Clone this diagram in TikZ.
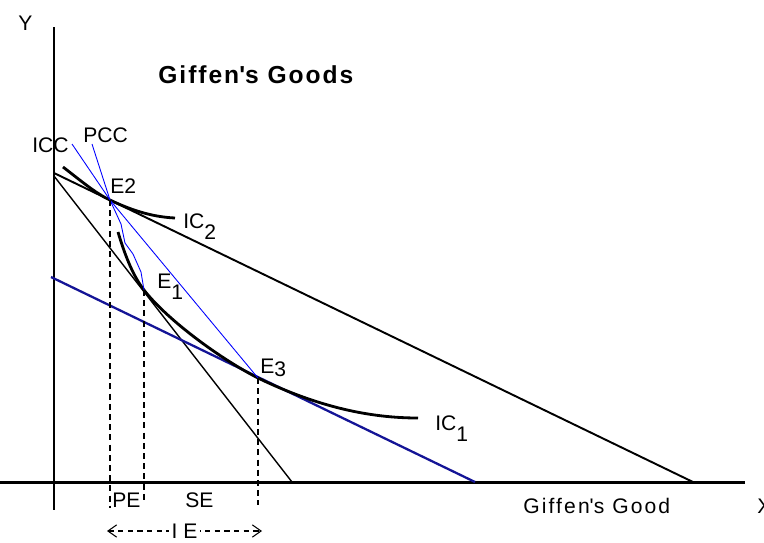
\documentclass[tikz,border=0pt]{standalone}
\usepackage{fontspec}
\setmainfont{Liberation Sans}
\usepackage{tikz}
\usetikzlibrary{arrows.meta}
\definecolor{clBudget}{HTML}{141496}
\definecolor{clLocus}{HTML}{0000FF}

\begin{document}
\begin{tikzpicture}[x=0.02cm,y=-0.02cm,
  every node/.style={font=\fontsize{12}{14}\selectfont, inner sep=0pt},
  axisline/.style={line width=1.7pt},
  budget/.style={line width=1.1pt},
  indiff/.style={line width=1.6pt},
  locus/.style={clLocus, line width=0.5pt},
  drop/.style={dash pattern=on 3.4pt off 2.4pt, line width=0.6pt}]
  \useasboundingbox (0,0) rectangle (764,542);
  % axes
  \coordinate (ytop) at (54,27); \coordinate (ybot) at (54,510);
  \coordinate (xl) at (0,482);   \coordinate (xr) at (745,482);
  \draw[axisline] (ytop) -- (ybot);
  \draw[axisline] (xl) -- (xr);
  \node[anchor=base west] (ylab) at (18,30) {Y};
  \node[anchor=base west] (xlab) at (757,513) {X};
  \node[anchor=base west, font=\fontsize{12}{14}\selectfont\addfontfeatures{LetterSpace=10}] (good) at (523,513) {Giffen\textquotesingle s Good};
  \node[anchor=base west, font=\fontsize{14}{16}\selectfont\bfseries\addfontfeatures{LetterSpace=8}] (title) at (158,83) {Giffen\textquotesingle s Goods};
  % equilibria
  \coordinate (E1) at (144,290); \coordinate (E2) at (110,200); \coordinate (E3) at (258,378);
  % budget lines
  \coordinate (bA) at (54,173); \coordinate (bB) at (693,482);
  \coordinate (sA) at (54,176); \coordinate (sB) at (292,482);
  \coordinate (cA) at (51,277); \coordinate (cB) at (475,482);
  \draw[budget] (bA) -- (bB);
  \draw[line width=0.8pt] (sA) -- (sB);
  \draw[budget, clBudget, line width=1.3pt] (cA) -- (cB);
  % indifference curves
  \coordinate (ic2s) at (63,167); \coordinate (ic2e) at (175,218);
  \coordinate (ic1s) at (118,232); \coordinate (ic1e) at (418,418);
  \draw[indiff] (ic2s) .. controls (80,180) and (95,193) .. (E2) .. controls (135,212) and (155,217) .. (ic2e);
  \draw[indiff] (ic1s) .. controls (124,252) and (132,274.6) .. (E1)
    .. controls (164.7,317) and (216,356.5) .. (E3) .. controls (318,407) and (370,418) .. (ic1e);
  \node[anchor=base west] (ic2lab) at (183,228) {IC\raisebox{-1ex}{2}};
  \node[anchor=base west] (ic1lab) at (435,430) {IC\raisebox{-1ex}{1}};
  % consumption curves
  \coordinate (iccTop) at (72,144); \coordinate (pccTop) at (92,144);
  \draw[locus] (iccTop) -- (E2) -- (E3);
  \draw[locus] (pccTop) -- (E2) -- (121,224) -- (125,243) -- (133,254) -- (141,272) -- (E1);
  \node[anchor=base west] (icc) at (32,152) {ICC};
  \node[anchor=base west] (pcc) at (83,142) {PCC};
  \node[anchor=base west] (e2lab) at (110,193) {E2};
  \node[anchor=base west] (e1lab) at (157,288) {E\raisebox{-1ex}{1}};
  \node[anchor=base west] (e3lab) at (260,373) {E\raisebox{-0.3ex}{3}};
  % effects
  \draw[drop] (E2) -- (E2 |- 0,508);
  \draw[drop] (E1) -- (E1 |- 0,502);
  \draw[drop] (E3) -- (E3 |- 0,505);
  \node[anchor=base west] (pe) at (112,507) {PE};
  \node[anchor=base west] (se) at (185,507) {SE};
  \coordinate (ieL) at (107,531); \coordinate (ieR) at (262,531);
  \draw[dash pattern=on 3pt off 2.5pt, line width=0.6pt, {Straight Barb[length=5pt,width=7pt]}-{Straight Barb[length=5pt,width=7pt]}]
    (ieL) -- node[fill=white, inner xsep=1.5pt] (ie) {I E} (ieR);
\end{tikzpicture}
\end{document}
